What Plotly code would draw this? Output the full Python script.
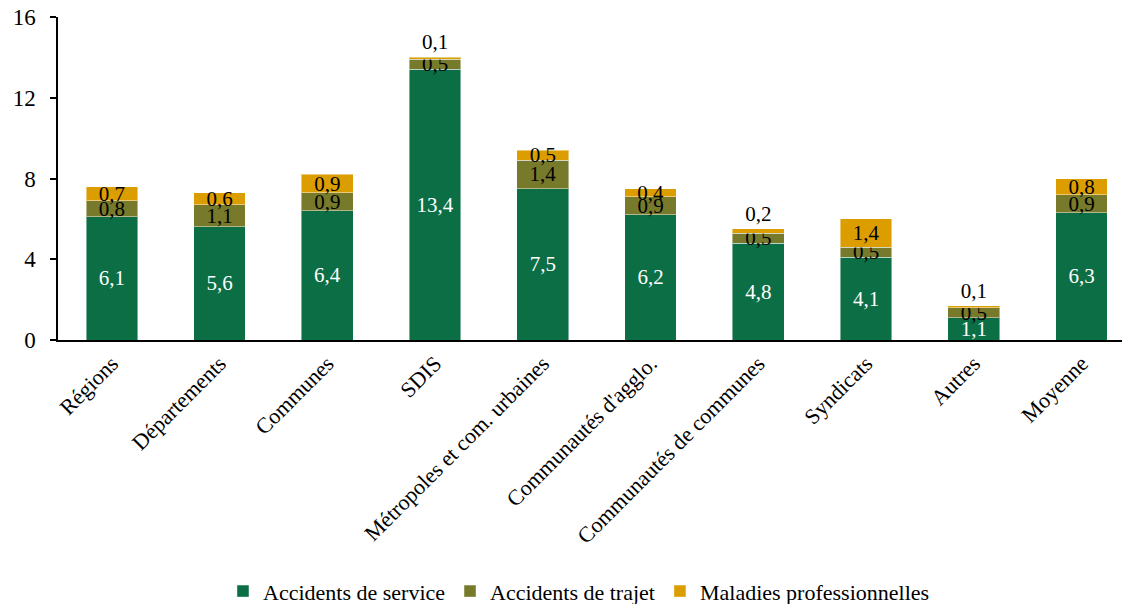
import plotly.graph_objects as go

categories = ["Régions", "Départements", "Communes", "SDIS", "Métropoles et com. urbaines",
              "Communautés d'agglo.", "Communautés de communes", "Syndicats", "Autres", "Moyenne"]
accidents_service = [6.1, 5.6, 6.4, 13.4, 7.5, 6.2, 4.8, 4.1, 1.1, 6.3]
accidents_trajet = [0.8, 1.1, 0.9, 0.5, 1.4, 0.9, 0.5, 0.5, 0.5, 0.9]
maladies_pro = [0.7, 0.6, 0.9, 0.1, 0.5, 0.4, 0.2, 1.4, 0.1, 0.8]
y_ticks = [0, 4, 8, 12, 16]

FONT = "Liberation Serif"
C_SERVICE = "#0C6E45"
C_TRAJET = "#767A2A"
C_MALADIES = "#DB9D00"
LBL = 21

# small top segments get their label just above the bar
mal_pos = ["outside" if v <= 0.2 else "inside" for v in maladies_pro]

fig = go.Figure()
common = dict(width=0.48, texttemplate="%{y:.1f}", textangle=0,
              insidetextanchor="middle", constraintext="none", cliponaxis=False,
              marker_line=dict(color="rgba(255,255,255,0.45)", width=1))
fig.add_trace(go.Bar(x=categories, y=accidents_service, name="Accidents de service",
                     marker_color=C_SERVICE, textposition="inside",
                     textfont=dict(family=FONT, size=LBL, color="white"),
                     insidetextfont=dict(family=FONT, size=LBL, color="white"), **common))
fig.add_trace(go.Bar(x=categories, y=accidents_trajet, name="Accidents de trajet",
                     marker_color=C_TRAJET, textposition="inside",
                     textfont=dict(family=FONT, size=LBL, color="black"),
                     insidetextfont=dict(family=FONT, size=LBL, color="black"), **common))
fig.add_trace(go.Bar(x=categories, y=maladies_pro, name="Maladies professionnelles",
                     marker_color=C_MALADIES, textposition=mal_pos,
                     textfont=dict(family=FONT, size=LBL, color="black"),
                     insidetextfont=dict(family=FONT, size=LBL, color="black"),
                     outsidetextfont=dict(family=FONT, size=LBL, color="black"), **common))

fig.update_layout(
    barmode="stack",
    width=1130, height=604,
    margin=dict(l=50, r=8, t=9, b=272, autoexpand=False),
    plot_bgcolor="white", paper_bgcolor="white",
    separators=", ",
    font=dict(family=FONT, size=22, color="black"),
    uniformtext=dict(minsize=LBL, mode="show"),
    showlegend=True,
    legend=dict(orientation="h", xanchor="center", x=0.486, yanchor="top", y=-0.713,
                font=dict(family=FONT, size=22, color="black"),
                itemwidth=30, traceorder="normal"),
    xaxis=dict(range=[-0.5, 9.45], showline=True, linecolor="black", linewidth=2,
               tickangle=-45, tickfont=dict(family=FONT, size=22), ticks="",
               showgrid=False, fixedrange=True, ticklabeloverflow="allow"),
    yaxis=dict(range=[0, 16], tickvals=y_ticks, showline=True, linecolor="black",
               linewidth=1.5, ticks="outside", ticklen=6, tickwidth=1.5, tickcolor="black",
               tickfont=dict(family=FONT, size=23), showgrid=False, zeroline=False,
               ticklabelstandoff=10, ticklabeloverflow="allow"),
)

fig.write_html("out.html")
